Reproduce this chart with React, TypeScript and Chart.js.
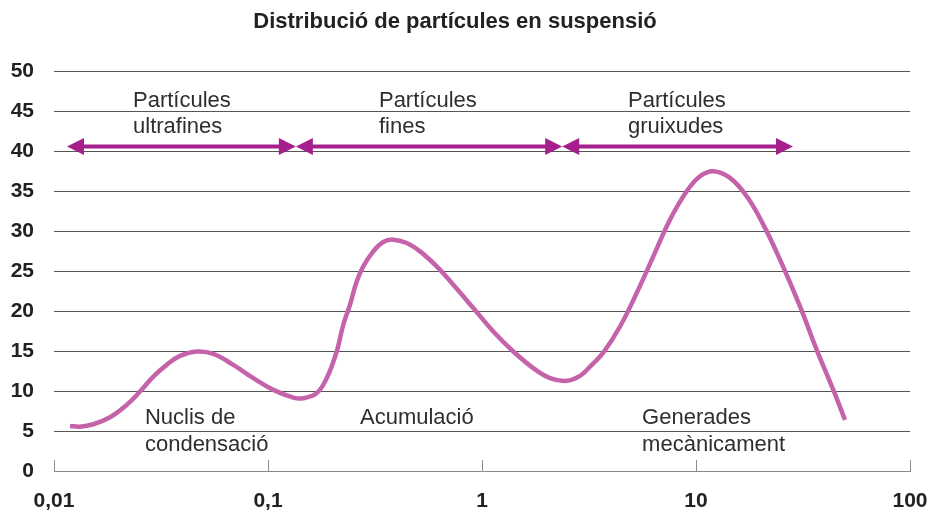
import React, { useEffect, useRef } from 'react';
import { Chart, registerables } from 'chart.js';

Chart.register(...registerables);

const TITLE = 'Distribució de partícules en suspensió';

// particle diameter (log axis) and concentration
const particleSize = [
  0.01188, 0.01323, 0.01526, 0.01827, 0.02186, 0.02522, 0.02911, 0.03362,
  0.0388, 0.04643, 0.05552, 0.06884, 0.08539, 0.1059, 0.1313, 0.1462, 0.1689,
  0.188, 0.2094, 0.2248, 0.2416, 0.2597, 0.2788, 0.3104, 0.3457, 0.385,
  0.4446, 0.5133, 0.6143, 0.7341, 0.9106, 1.129, 1.401, 1.737, 2.078, 2.488,
  2.87, 3.197, 3.688, 4.415, 5.283, 6.318, 7.558, 9.049, 10.44, 12.04, 14.42,
  17.26, 20.63, 24.69, 30.62, 36.64, 43.82, 49.69,
];
const concentration = [
  5.64, 5.55, 5.85, 6.73, 8.27, 9.94, 11.82, 13.28, 14.41, 14.95, 14.66,
  13.28, 11.62, 10.15, 9.19, 9.11, 9.74, 11.6, 14.95, 18.3, 20.8, 23.72,
  25.6, 27.48, 28.66, 28.95, 28.53, 27.48, 25.6, 23.31, 20.39, 17.46, 14.95,
  12.87, 11.62, 11.28, 11.9, 13.07, 14.82, 18.08, 22.27, 26.85, 31.45, 35.0,
  36.88, 37.51, 36.68, 34.37, 30.83, 26.44, 20.59, 15.16, 10.15, 6.39,
];

const xTickValues = [0.01, 0.1, 1, 10, 100];
const xTickLabels = ['0,01', '0,1', '1', '10', '100'];

// size ranges drawn as double arrows
const rangeBounds = [0.0115, 0.135, 2.37, 28.4];
const rangeLevel = 40.6;
const rangeLabels = [
  ['Partícules', 'ultrafines'],
  ['Partícules', 'fines'],
  ['Partícules', 'gruixudes'],
];
const rangeLabelX = [0.0234, 0.33, 4.81];
const rangeLabelLevel = 45.6;

// mode labels
const modeLabels = [['Nuclis de', 'condensació'], ['Acumulació'], ['Generades', 'mecànicament']];
const modeLabelX = [0.0266, 0.269, 5.6];
const modeLabelLevel = 5.9;

const FONT = '"Liberation Sans", Arial, Helvetica, sans-serif';
const CURVE_COLOR = '#c462aa';
const ARROW_COLOR = '#a6208d';

const overlayPlugin = {
  id: 'overlay',
  afterDraw(chart: any) {
    const { ctx, chartArea } = chart;
    const x = chart.scales.x;
    const y = chart.scales.y;
    ctx.save();

    // upward tick marks on the x axis
    ctx.strokeStyle = '#8a8a8a';
    ctx.lineWidth = 1;
    xTickValues.forEach((v) => {
      const px = Math.round(x.getPixelForValue(v)) + 0.5;
      ctx.beginPath();
      ctx.moveTo(px, chartArea.bottom);
      ctx.lineTo(px, chartArea.bottom - 11);
      ctx.stroke();
    });

    // double arrows
    const ay = y.getPixelForValue(rangeLevel);
    const head = 17;
    const half = 8.5;
    ctx.fillStyle = ARROW_COLOR;
    ctx.strokeStyle = ARROW_COLOR;
    ctx.lineWidth = 4;
    for (let i = 0; i < rangeBounds.length - 1; i++) {
      const x1 = x.getPixelForValue(rangeBounds[i]);
      const x2 = x.getPixelForValue(rangeBounds[i + 1]);
      ctx.beginPath();
      ctx.moveTo(x1 + head - 2, ay);
      ctx.lineTo(x2 - head + 2, ay);
      ctx.stroke();
      ctx.beginPath();
      ctx.moveTo(x1, ay);
      ctx.lineTo(x1 + head, ay - half);
      ctx.lineTo(x1 + head, ay + half);
      ctx.closePath();
      ctx.fill();
      ctx.beginPath();
      ctx.moveTo(x2, ay);
      ctx.lineTo(x2 - head, ay - half);
      ctx.lineTo(x2 - head, ay + half);
      ctx.closePath();
      ctx.fill();
    }

    // text labels
    ctx.font = `22px ${FONT}`;
    ctx.fillStyle = '#2e2e2e';
    ctx.textAlign = 'left';
    ctx.textBaseline = 'alphabetic';
    rangeLabels.forEach((lines, i) => {
      const lx = x.getPixelForValue(rangeLabelX[i]);
      const ly = y.getPixelForValue(rangeLabelLevel);
      lines.forEach((t, j) => ctx.fillText(t, lx, ly + j * 26));
    });
    modeLabels.forEach((lines, i) => {
      const lx = x.getPixelForValue(modeLabelX[i]);
      const ly = y.getPixelForValue(modeLabelLevel);
      lines.forEach((t, j) => ctx.fillText(t, lx, ly + j * 27));
    });
    ctx.restore();
  },
};

export default function App() {
  const canvasRef = useRef<HTMLCanvasElement | null>(null);

  useEffect(() => {
    if (!canvasRef.current) return;
    const chart = new Chart(canvasRef.current, {
      type: 'line',
      data: {
        datasets: [
          {
            data: particleSize.map((s, i) => ({ x: s, y: concentration[i] })),
            borderColor: CURVE_COLOR,
            borderWidth: 4.5,
            pointRadius: 0,
            fill: false,
            tension: 0.4,
            borderCapStyle: 'butt',
            borderJoinStyle: 'round',
          },
        ],
      },
      options: {
        responsive: false,
        animation: false,
        layout: { padding: { left: 0, right: 19, top: 0, bottom: 0 } },
        plugins: {
          legend: { display: false },
          tooltip: { enabled: false },
          title: {
            display: true,
            text: TITLE,
            color: '#222',
            font: { family: FONT, size: 22, weight: 'bold' },
            padding: { top: 9, bottom: 36 },
          },
        },
        scales: {
          x: {
            type: 'logarithmic',
            min: 0.01,
            max: 100,
            afterBuildTicks: (scale: any) => {
              scale.ticks = xTickValues.map((v) => ({ value: v, major: true }));
            },
            afterFit: (scale: any) => {
              scale.height = 41;
              scale.paddingLeft = 0;
              scale.paddingRight = 0;
            },
            ticks: {
              autoSkip: false,
              maxRotation: 0,
              padding: 18,
              color: '#222',
              font: { family: FONT, size: 21, weight: 'bold' },
              callback: (value: any) => {
                const idx = xTickValues.indexOf(Number(value));
                return idx >= 0 ? xTickLabels[idx] : '';
              },
            },
            grid: { display: true, drawOnChartArea: false, drawTicks: false },
            border: { display: true, color: '#8a8a8a', width: 1 },
          },
          y: {
            min: 0,
            max: 50,
            afterFit: (scale: any) => {
              scale.width = 54;
            },
            ticks: {
              stepSize: 5,
              padding: 20,
              color: '#222',
              font: { family: FONT, size: 21, weight: 'bold' },
            },
            grid: {
              drawTicks: false,
              color: (ctx: any) => (ctx.tick && ctx.tick.value === 0 ? 'rgba(0,0,0,0)' : '#555555'),
              lineWidth: 1,
            },
            border: { display: false },
          },
        },
      },
      plugins: [overlayPlugin],
    });
    return () => chart.destroy();
  }, []);

  return (
    <div style={{ position: 'absolute', left: 0, top: 0, width: 929, height: 512 }}>
      <canvas ref={canvasRef} width={929} height={512} style={{ display: 'block' }} />
    </div>
  );
}
